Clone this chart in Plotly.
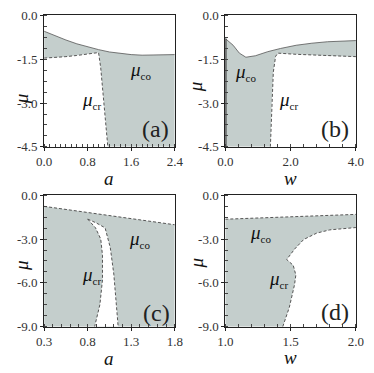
import plotly.graph_objects as go

# ---- data ----
# panel (a): mu vs a
a_co_x = [0.0, 0.2, 0.4, 0.6, 0.8, 1.0, 1.2, 1.4, 1.6, 1.8, 2.0, 2.2, 2.4]
a_co_y = [-0.54, -0.70, -0.84, -0.97, -1.08, -1.17, -1.25, -1.30, -1.34, -1.36, -1.36, -1.35, -1.34]
a_cr_x = [0.0, 0.2, 0.4, 0.6, 0.8, 1.0, 1.04, 1.08, 1.12, 1.17]
a_cr_y = [-1.46, -1.44, -1.41, -1.37, -1.32, -1.27, -1.8, -2.6, -3.4, -4.5]

# panel (b): mu vs w
b_co_x = [0.0, 0.24, 0.43, 0.63, 0.92, 1.30, 1.69, 2.17, 2.65, 3.13, 4.0]
b_co_y = [-0.79, -1.02, -1.29, -1.43, -1.38, -1.24, -1.13, -1.02, -0.95, -0.90, -0.86]
b_cr_x = [1.38, 1.42, 1.47, 1.54, 1.61, 2.17, 3.13, 4.0]
b_cr_y = [-4.5, -3.02, -1.94, -1.40, -1.29, -1.33, -1.38, -1.41]

# panel (c): mu vs a
c_co_x = [0.3, 1.05, 1.8]
c_co_y = [-0.76, -1.40, -2.02]
c_crl_x = [0.80, 0.89, 0.95, 0.97, 0.97, 0.94, 0.88]
c_crl_y = [-1.63, -2.23, -3.0, -4.1, -5.8, -7.5, -9.0]
c_crr_x = [0.80, 0.90, 1.00, 1.06, 1.10, 1.13, 1.15]
c_crr_y = [-1.63, -1.9, -2.23, -3.6, -5.4, -7.5, -9.0]

# panel (d): mu vs w
d_co_x = [1.0, 1.5, 2.0]
d_co_y = [-1.64, -1.47, -1.31]
d_cr_x = [1.44, 1.49, 1.53, 1.54, 1.52, 1.47, 1.53, 1.60, 1.70, 1.80, 2.0]
d_cr_y = [-9.0, -7.68, -6.12, -5.46, -4.80, -4.40, -3.69, -3.03, -2.59, -2.37, -2.21]

FILL = "#c4cecc"
LINE = "#555555"
SERIF = "Liberation Serif, DejaVu Serif, serif"

fig = go.Figure()


def add_poly(xs, ys, ax, color=FILL):
    fig.add_trace(go.Scatter(x=xs, y=ys, xaxis=ax[0], yaxis=ax[1], mode="lines",
                             fill="toself", fillcolor=color, line=dict(width=0),
                             hoverinfo="skip", showlegend=False))


def add_line(xs, ys, ax, dash="3px,2px", width=1, color=LINE):
    fig.add_trace(go.Scatter(x=xs, y=ys, xaxis=ax[0], yaxis=ax[1], mode="lines",
                             line=dict(color=color, width=width, dash=dash),
                             hoverinfo="skip", showlegend=False))


# (a)
A = ("x", "y")
add_poly(a_co_x + [2.4, a_cr_x[-1]] + a_cr_x[::-1], a_co_y + [-4.5, -4.5] + a_cr_y[::-1], A)
add_line(a_co_x, a_co_y, A, dash="solid", width=0.8)
add_line(a_cr_x, a_cr_y, A)

# (b)
B = ("x2", "y2")
add_poly(b_co_x + b_cr_x[::-1] + [0.0], b_co_y + b_cr_y[::-1] + [-4.5], B)
add_line(b_co_x, b_co_y, B, dash="solid", width=0.8)
add_line(b_cr_x, b_cr_y, B)
add_line([0.0, 0.0], [b_co_y[0], -4.5], B, dash="solid", width=2.5, color="#444444")

# (c)
C = ("x3", "y3")
add_poly(c_co_x + [1.8, 0.3], c_co_y + [-9.0, -9.0], C)
add_poly(c_crl_x + c_crr_x[::-1], c_crl_y + c_crr_y[::-1], C, color="white")
add_line(c_co_x, c_co_y, C)
add_line(c_crl_x, c_crl_y, C)
add_line(c_crr_x, c_crr_y, C)

# (d)
D = ("x4", "y4")
add_poly(d_co_x + d_cr_x[::-1] + [1.0], d_co_y + d_cr_y[::-1] + [-9.0], D)
add_line(d_co_x, d_co_y, D)
add_line(d_cr_x, d_cr_y, D)

# page body has an 8px margin, so the figure is shifted by 8px
OFF = 8
W, H = 374 - OFF, 373 - OFF


def px(x):
    return min(max((x - OFF) / W, 0), 1)


def py(y):
    return min(max(1 - (y - OFF) / H, 0), 1)


xl = [px(37.5), px(174.5)]
xr = [px(227.5), px(364.5)]
yt = [py(145.5), py(8.5)]
yb = [py(333), py(196)]

tickfont = dict(family=SERIF, size=13, color="#333333")


def ax(dom, anchor, rng, tv, minor):
    return dict(domain=dom, anchor=anchor, range=rng, tickvals=tv,
                ticktext=["%.1f" % v for v in tv], ticks="outside", ticklen=3,
                tickcolor="#222", showline=True, linecolor="#222", linewidth=1,
                mirror=True, showgrid=False, zeroline=False, tickfont=tickfont,
                minor=dict(dtick=minor, tick0=0, ticks="inside", ticklen=3,
                           tickcolor="#444", showgrid=False))


fig.update_layout(
    width=W, height=H, margin=dict(l=0, r=0, t=0, b=0),
    paper_bgcolor="white", plot_bgcolor="white",
    xaxis=ax(xl, "y", [0, 2.4], [0, 0.8, 1.6, 2.4], 0.1),
    yaxis=ax(yt, "x", [-4.5, 0], [0, -1.5, -3.0, -4.5], 0.375),
    xaxis2=ax(xr, "y2", [0, 4], [0, 2.0, 4.0], 0.4),
    yaxis2=ax(yt, "x2", [-4.5, 0], [0, -1.5, -3.0, -4.5], 0.375),
    xaxis3=ax(xl, "y3", [0.3, 1.8], [0.3, 0.8, 1.3, 1.8], 0.1),
    yaxis3=ax(yb, "x3", [-9, 0], [0, -3.0, -6.0, -9.0], 0.75),
    xaxis4=ax(xr, "y4", [1.0, 2.0], [1.0, 1.5, 2.0], 0.1),
    yaxis4=ax(yb, "x4", [-9, 0], [0, -3.0, -6.0, -9.0], 0.75),
)

mu_font = dict(family=SERIF, size=19, color="#111111")
lab_font = dict(family=SERIF, size=24, color="#222222")


def mu(sub):
    return "<i>\u03bc</i><sub><span style='font-size:11px'>%s</span></sub>" % sub


anns = [
    # (a)
    ("x", "y", 1.77, -1.89, mu("co"), mu_font),
    ("x", "y", 0.87, -2.91, mu("cr"), mu_font),
    ("x", "y", 2.05, -3.88, "(a)", lab_font),
    # (b)
    ("x2", "y2", 0.63, -1.94, mu("co"), mu_font),
    ("x2", "y2", 1.93, -2.91, mu("cr"), mu_font),
    ("x2", "y2", 3.37, -3.88, "(b)", lab_font),
    # (c)
    ("x3", "y3", 1.39, -3.0, mu("co"), mu_font),
    ("x3", "y3", 0.84, -5.52, mu("cr"), mu_font),
    ("x3", "y3", 1.59, -8.04, "(c)", lab_font),
    # (d)
    ("x4", "y4", 1.27, -2.59, mu("co"), mu_font),
    ("x4", "y4", 1.405, -5.8, mu("cr"), mu_font),
    ("x4", "y4", 1.84, -8.01, "(d)", lab_font),
]
for xr_, yr_, x, y, t, f in anns:
    fig.add_annotation(x=x, y=y, xref=xr_, yref=yr_, text=t, showarrow=False,
                       font=f, xanchor="center", yanchor="middle")

# axis titles
title_font = dict(family=SERIF, size=19, color="#111111")
for x, y, t, ang in [(106, 179, "<i>a</i>", 0), (296, 179, "<i>w</i>", 0),
                     (106, 366, "<i>a</i>", 0), (296, 365, "<i>w</i>", 0),
                     (14, 95, "<i>\u03bc</i>", -90), (197, 83, "<i>\u03bc</i>", -90),
                     (14, 269, "<i>\u03bc</i>", -90), (197, 267, "<i>\u03bc</i>", -90)]:
    fig.add_annotation(x=px(x), y=py(y), xref="paper", yref="paper", text=t,
                       showarrow=False, font=title_font, textangle=ang,
                       xanchor="center", yanchor="middle")

fig.write_html("out.html")
